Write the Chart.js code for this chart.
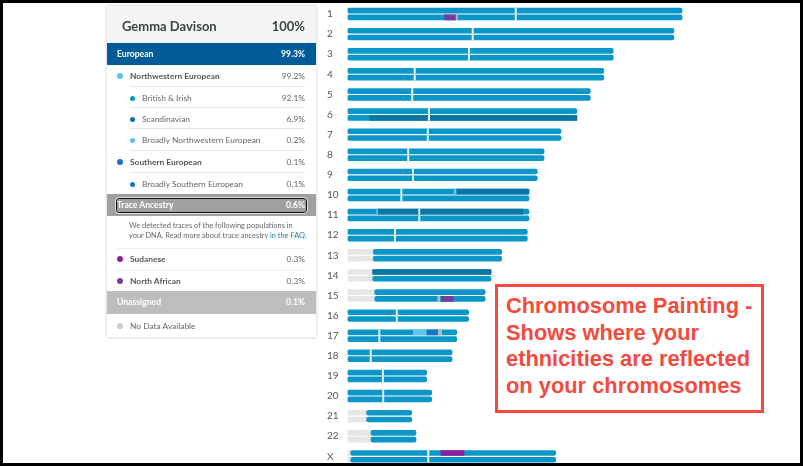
<!DOCTYPE html>
<html>
<head>
<meta charset="utf-8">
<title>Chromosome Painting</title>
<script src="https://cdn.jsdelivr.net/npm/chart.js@4"></script>
<style>
    html, body { margin: 0; padding: 0; background: #000; }
    #page { position: absolute; left: 3px; top: 3px; width: 797px; height: 460px; background: #fff; overflow: hidden; }
    #stage { position: absolute; left: 0; top: 0; width: 803px; height: 466px; overflow: hidden; font-family: Lato, sans-serif; }
    #chart-wrap { position: absolute; left: 320px; top: 3px; width: 480px; height: 460px; }

    /* Ancestry card on the left */
    #card { position: absolute; left: 107px; top: 6px; width: 209px; height: 331px; background: #fff; box-shadow: 0 0 3px rgba(0,0,0,0.25); color: #555; font-size: 8.4px; font-weight: 700; }
    #card .row { position: absolute; left: 0; width: 209px; height: 12px; line-height: 12px; }
    #card .row .name { position: absolute; white-space: nowrap; }
    #card .row .pct { position: absolute; right: 11px; }
    #card .thin { font-weight: 400; color: #666; }
    #card .dot { position: absolute; width: 6px; height: 6px; border-radius: 50%; top: 3px; }
    #card .rule { position: absolute; height: 1px; background: #e4e6e6; left: 23px; right: 11px; }
    #card .band { position: absolute; left: 0; width: 209px; color: #fff; font-weight: 700; font-size: 8.6px; }
    #card-head { position: absolute; left: 0; top: 0; width: 209px; height: 37px; background: #f4f6f6; color: #3f4244; font-size: 13px; font-weight: 700; line-height: 40px; }
    #trace-box { position: absolute; left: 9px; top: 192px; width: 189px; height: 13px; border: 1px solid #111; outline: 1px solid #ddd; border-radius: 3px; }
    #note { position: absolute; left: 22px; top: 215px; width: 190px; font-size: 7.4px; font-weight: 400; line-height: 9.6px; color: #666; white-space: nowrap; }
    #note b { color: #1a7fa8; font-weight: 400; }

    /* Red callout */
    #callout { position: absolute; left: 495px; top: 284px; width: 255px; height: 117px; border: 3px solid #f44a3e; background: #fff; color: #f44a3e; font-family: "Liberation Sans", sans-serif; font-weight: 700; font-size: 21.85px; line-height: 26.7px; padding: 6px 0 0 8px; box-sizing: content-box; white-space: nowrap; }
</style>
</head>
<body>
<div id="stage">
    <div id="page"></div>
    <div id="chart-wrap"><canvas id="painting"></canvas></div>

    <div id="card">
        <div id="card-head"><span style="position:absolute;left:15px">Gemma Davison</span><span style="position:absolute;right:11px">100%</span></div>
        <div class="band" style="top:37px;height:22px;line-height:22px;background:#005b99"><span style="position:absolute;left:10px">European</span><span style="position:absolute;right:11px">99.3%</span></div>

        <div class="row" style="top:64px"><span class="dot" style="left:10px;background:#55c5ec"></span><span class="name" style="left:23px">Northwestern European</span><span class="pct thin">99.2%</span></div>
        <div class="rule" style="top:80px"></div>
        <div class="row thin" style="top:86px"><span class="dot" style="left:23px;top:3.5px;width:5px;height:5px;background:#0a96c8"></span><span class="name" style="left:35px">British &amp; Irish</span><span class="pct">92.1%</span></div>
        <div class="rule" style="top:101px"></div>
        <div class="row thin" style="top:107px"><span class="dot" style="left:23px;top:3.5px;width:5px;height:5px;background:#0a76a3"></span><span class="name" style="left:35px">Scandinavian</span><span class="pct">6.9%</span></div>
        <div class="rule" style="top:122px"></div>
        <div class="row thin" style="top:128px"><span class="dot" style="left:23px;top:3.5px;width:5px;height:5px;background:#55c5ec"></span><span class="name" style="left:35px">Broadly Northwestern European</span><span class="pct">0.2%</span></div>
        <div class="rule" style="top:144px"></div>
        <div class="row" style="top:150px"><span class="dot" style="left:10px;background:#1a73c9"></span><span class="name" style="left:23px">Southern European</span><span class="pct thin">0.1%</span></div>
        <div class="rule" style="top:166px"></div>
        <div class="row thin" style="top:172px"><span class="dot" style="left:23px;top:3.5px;width:5px;height:5px;background:#1a73c9"></span><span class="name" style="left:35px">Broadly Southern European</span><span class="pct">0.1%</span></div>

        <div class="band" style="top:188px;height:22px;line-height:22px;background:#a0a0a0"><span style="position:absolute;left:10px">Trace Ancestry</span><span style="position:absolute;right:11px">0.6%</span></div>
        <div id="trace-box"></div>
        <div id="note">We detected traces of the following populations in<br>your DNA. Read more about trace ancestry <b>in the FAQ.</b></div>

        <div class="rule" style="top:242px;left:10px;background:#eef0f0"></div>
        <div class="row" style="top:247px"><span class="dot" style="left:10px;background:#8e1ba0"></span><span class="name" style="left:23px">Sudanese</span><span class="pct thin">0.3%</span></div>
        <div class="rule" style="top:264px;left:10px;background:#eef0f0"></div>
        <div class="row" style="top:269px"><span class="dot" style="left:10px;background:#7b3a9e"></span><span class="name" style="left:23px">North African</span><span class="pct thin">0.3%</span></div>

        <div class="band" style="top:285px;height:23px;line-height:23px;background:#bdbdbd"><span style="position:absolute;left:10px">Unassigned</span><span style="position:absolute;right:11px">0.1%</span></div>
        <div class="row thin" style="top:314px"><span class="dot" style="left:10px;background:#d4d4d4;border:1px solid #bbb;width:4px;height:4px"></span><span class="name" style="left:23px">No Data Available</span></div>
    </div>

    <div id="callout">Chromosome Painting -<br>Shows where your<br>ethnicities are reflected<br>on your chromosomes</div>
</div>

<script>
// --- DATA (positions in Mb) ---
const chromosomes = ['1','2','3','4','5','6','7','8','9','10','11','12','13','14','15','16','17','18','19','20','21','22','X'];
const lengths = [248,242,197,190,180,170,158.3,145.7,140.7,134.5,134.5,133.3,114.3,106.4,102,89.8,81,77.5,58.7,62.4,47.6,50.8,154.3];
const centromeres = [124.7,92.8,90,49.8,48,60.4,59.5,45,48.6,39.9,53.2,35.2,null,null,null,36.5,23.6,17.2,26.3,26.5,null,null,59.9];
const noDataEnds = [0,0,0,0,0,0,0,0,0,0,0,0,19.1,18.7,20.2,0,0,0,0,0,14.2,17.4,2.4];

// painted segments: [chromosome, copy, start, end]
const scandinavian = [[5,1,16.7,170],[9,0,80.5,134.5],[10,0,22.3,130],[13,0,18.7,106.4],[14,1,68.6,70.8]];
const broadlyNW = [[9,0,79,80.5],[10,0,21.6,22.3],[16,0,48.8,58.9]];
const southern = [[16,0,58.9,67.3]];
const sudanese = [[22,0,69.3,86.4]];
const northAfrican = [[0,1,72,80],[14,1,70.8,78.2]];
const unassigned = [[0,1,80,81.5],[14,1,66.9,68.6],[16,0,67.3,69.8]];

// pixel mapping of the axes
const COPY_OFFSET = 0.168;
const BAR_HEIGHT = 5;

function rowOf(chrom, copy) {
    return chrom + (copy === 0 ? -COPY_OFFSET : COPY_OFFSET);
}

function toBars(segments) {
    return segments.map(s => ({ x: [s[2], s[3]], y: rowOf(s[0], s[1]) }));
}

// Both copies of a chromosome get the same span
function bothCopies(spans) {
    const out = [];
    spans.forEach(s => {
        out.push({ x: [s[1], s[2]], y: rowOf(s[0], 0) });
        out.push({ x: [s[1], s[2]], y: rowOf(s[0], 1) });
    });
    return out;
}

// Light hatch for the regions without data
function hatchPattern() {
    const c = document.createElement('canvas');
    c.width = 3;
    c.height = 3;
    const g = c.getContext('2d');
    g.fillStyle = '#ececec';
    g.fillRect(0, 0, 3, 3);
    g.fillStyle = '#dadada';
    g.fillRect(0, 0, 1, 1);
    g.fillRect(1, 1, 1, 1);
    g.fillRect(2, 2, 1, 1);
    return g.createPattern(c, 'repeat');
}

const centromereSpans = [];
centromeres.forEach((c, i) => { if (c !== null) centromereSpans.push([i, c - 0.45, c + 0.45]); });

const baseSpans = lengths.map((len, i) => [i, noDataEnds[i], len]);
const noDataSpans = [];
noDataEnds.forEach((end, i) => { if (end > 0) noDataSpans.push([i, 0, end]); });

function overlay(label, segments, color) {
    return { label: label, data: toBars(segments), backgroundColor: color };
}

// First dataset is painted last, so the base bars go at the end of the list
new Chart(document.getElementById('painting'), {
    type: 'bar',
    data: {
        datasets: [
            { label: 'Centromere', data: bothCopies(centromereSpans), backgroundColor: '#ffffff' },
            overlay('Sudanese', sudanese, '#8e1ba0'),
            overlay('North African', northAfrican, '#7b3a9e'),
            overlay('Unassigned', unassigned, '#b4b8ba'),
            overlay('Southern European', southern, '#1a73c9'),
            overlay('Broadly Northwestern European', broadlyNW, '#62c6ea'),
            overlay('Scandinavian', scandinavian, '#0a76a3'),
            { label: 'British & Irish', data: bothCopies(baseSpans), backgroundColor: '#0a96c8', borderRadius: 2, borderSkipped: false },
            { label: 'No Data Available', data: bothCopies(noDataSpans), backgroundColor: hatchPattern() }
        ]
    },
    options: {
        indexAxis: 'y',
        responsive: true,
        maintainAspectRatio: false,
        animation: false,
        grouped: false,
        barThickness: BAR_HEIGHT,
        layout: { padding: { left: 7, right: 0, top: 0, bottom: 0 } },
        plugins: { legend: { display: false }, tooltip: { enabled: false } },
        scales: {
            x: { type: 'linear', display: false, min: 0, max: 335.4 },
            y: {
                type: 'linear',
                offset: false,   // bar charts turn this on for the index axis
                bounds: 'data',
                reverse: true,
                min: -0.547,
                max: 22.33,
                // labels never reach the ends of the axis, so no room is kept for them
                afterFit: scale => {
                    scale.width = 20.5;
                    scale.paddingTop = 0;
                    scale.paddingBottom = 0;
                },
                // one tick per chromosome, the generated ones start at min
                afterBuildTicks: scale => { scale.ticks = chromosomes.map((name, i) => ({ value: i })); },
                grid: { display: false, drawTicks: false },
                border: { display: false },
                ticks: {
                    autoSkip: false,
                    crossAlign: 'far',
                    padding: 0,
                    color: '#555',
                    font: { family: 'Lato, sans-serif', size: 10, weight: '400' },
                    callback: value => chromosomes[value]
                }
            }
        }
    }
});
</script>
</body>
</html>
